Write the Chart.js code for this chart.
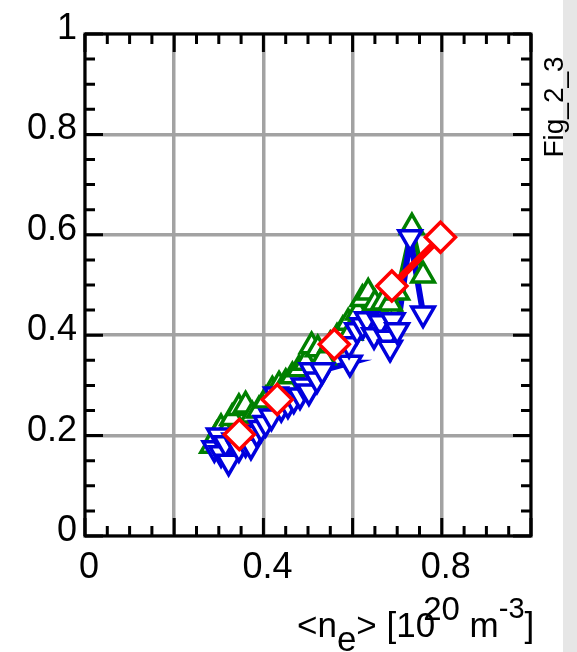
<!DOCTYPE html>
<html><head><meta charset="utf-8">
<script src="https://cdn.jsdelivr.net/npm/chart.js@4"></script>
<style>
html,body{margin:0;padding:0;background:#fff;overflow:hidden;}
canvas{display:block;}
</style></head><body>
<canvas id="c" width="577" height="652"></canvas>
<script>
// ---- data ----
const greenX=[0.285,0.295,0.305,0.315,0.330,0.345,0.360,0.375,0.390,0.405,0.420,0.435,0.450,0.465,0.480,0.495,0.508,0.522,0.535,0.550,0.565,0.578,0.590,0.595,0.612,0.622,0.635,0.650,0.668,0.684,0.700,0.733,0.758];
const greenY=[0.180,0.200,0.215,0.205,0.235,0.255,0.260,0.240,0.250,0.270,0.290,0.300,0.305,0.318,0.332,0.345,0.378,0.372,0.356,0.380,0.395,0.410,0.425,0.405,0.445,0.472,0.485,0.463,0.465,0.463,0.485,0.615,0.519];
const blueX=[0.290,0.300,0.305,0.315,0.322,0.335,0.345,0.360,0.372,0.385,0.395,0.405,0.418,0.428,0.440,0.455,0.468,0.482,0.490,0.502,0.508,0.520,0.532,0.594,0.592,0.610,0.623,0.632,0.648,0.662,0.677,0.684,0.690,0.700,0.729,0.758];
const blueY=[0.175,0.200,0.165,0.185,0.148,0.190,0.175,0.185,0.180,0.205,0.215,0.225,0.238,0.282,0.255,0.262,0.272,0.280,0.300,0.288,0.330,0.312,0.330,0.345,0.382,0.410,0.420,0.432,0.400,0.426,0.395,0.375,0.430,0.410,0.595,0.443];
const redX=[0.346,0.431,0.559,0.688,0.797];
const redY=[0.202,0.272,0.382,0.498,0.595];
const xTickLabels=['0','0.4','0.8'];
const yTickLabels=['0','0.2','0.4','0.6','0.8','1'];
const figLabel='Fig_2_3';

const pts=(xs,ys)=>xs.map((x,i)=>({x:x,y:ys[i]}));
const key=v=>Math.round(v*100);
const isMajor=v=>key(v)%20===0;
const fmt=v=>{const k=key(v);return k===0?'0':(k===100?'1':(k/100).toString());};
const FONT='"Liberation Sans", Arial, sans-serif';
const GREEN='#008000',BLUE='#0000dd',RED='#ff0000';

const framePlugin={
  id:'frame',
  beforeDraw(chart){
    const ctx=chart.ctx;
    ctx.save();ctx.fillStyle='#fff';ctx.fillRect(0,0,chart.width,chart.height);
    ctx.fillStyle='#e6e6e6';ctx.fillRect(chart.width-14,0,14,chart.height);ctx.restore();
  },
  afterDatasetsDraw(chart){
    const ctx=chart.ctx,a=chart.chartArea,xs=chart.scales.x,ys=chart.scales.y;
    ctx.save();
    ctx.strokeStyle='#000';ctx.lineWidth=3;ctx.lineCap='butt';
    ctx.beginPath();
    xs.ticks.forEach(t=>{const p=xs.getPixelForValue(t.value);const L=isMajor(t.value)?18:10;
      ctx.moveTo(p,a.bottom);ctx.lineTo(p,a.bottom-L);ctx.moveTo(p,a.top);ctx.lineTo(p,a.top+L);});
    ys.ticks.forEach(t=>{const p=ys.getPixelForValue(t.value);const L=isMajor(t.value)?18:10;
      ctx.moveTo(a.left,p);ctx.lineTo(a.left+L,p);ctx.moveTo(a.right,p);ctx.lineTo(a.right-L,p);});
    ctx.stroke();
    ctx.strokeRect(a.left,a.top,a.right-a.left,a.bottom-a.top);
    ctx.restore();
  },
  afterDraw(chart){
    const ctx=chart.ctx,a=chart.chartArea;
    ctx.save();
    ctx.fillStyle='#000';ctx.textBaseline='alphabetic';ctx.textAlign='left';
    const segs=[
      {t:'<n',s:35,dy:0,dx:0},
      {t:'e',s:35,dy:14,dx:0},
      {t:'> [10',s:35,dy:0,dx:0},
      {t:'20',s:33,dy:-17,dx:-12},
      {t:' m',s:35,dy:0,dx:0},
      {t:'-3',s:29,dy:-19,dx:0},
      {t:']',s:35,dy:0,dx:0}
    ];
    let x=a.left+212;const base=a.bottom+101;
    segs.forEach(sg=>{ctx.font=sg.s+'px '+FONT;x+=sg.dx;ctx.fillText(sg.t,x,base+sg.dy);x+=ctx.measureText(sg.t).width;});
    ctx.translate(a.right+24,a.top+73);ctx.rotate(-Math.PI/2);
    ctx.font='28px '+FONT;ctx.textAlign='center';ctx.textBaseline='middle';
    ctx.fillText(figLabel,0,0);
    ctx.restore();
  }
};

const gridCfg={
  color:c=>isMajor(c.tick.value)?'#a2a2a2':'rgba(0,0,0,0)',
  lineWidth:3.5,drawTicks:false
};
const lineOnly=(lbl,xs,ys,col,w,ord)=>({label:lbl,data:pts(xs,ys),showLine:true,borderColor:col,borderWidth:w,pointRadius:0,order:ord});
const ptsOnly=(lbl,xs,ys,col,style,rot,r,ord)=>({label:lbl,data:pts(xs,ys),showLine:false,pointStyle:style,rotation:rot,
  pointRadius:r,pointBorderWidth:3.5,pointBackgroundColor:'#fff',pointBorderColor:col,order:ord});

new Chart(document.getElementById('c'),{
  type:'scatter',
  data:{datasets:[
    lineOnly('green line',greenX,greenY,GREEN,5,6),
    lineOnly('blue line',blueX,blueY,BLUE,6,5),
    lineOnly('red line',redX,redY,RED,7,4),
    ptsOnly('green',greenX,greenY,GREEN,'triangle',0,13,3),
    ptsOnly('blue',blueX,blueY,BLUE,'triangle',180,13,2),
    ptsOnly('red',redX,redY,RED,'rectRot',0,15,1)
  ]},
  options:{
    responsive:false,animation:false,devicePixelRatio:1,
    layout:{padding:{top:34,right:46,left:0,bottom:0}},
    plugins:{legend:{display:false},tooltip:{enabled:false}},
    scales:{
      x:{type:'linear',min:0,max:1,
        afterFit:s=>{s.height=116;},
        grid:gridCfg,border:{display:false},
        ticks:{stepSize:0.05,autoSkip:false,maxRotation:0,padding:10,labelOffset:4,color:'#000',
          font:{family:FONT,size:36},
          callback:v=>{const f=fmt(v);return xTickLabels.includes(f)?f:'';}}},
      y:{type:'linear',min:0,max:1,
        afterFit:s=>{s.width=85;},
        grid:gridCfg,border:{display:false},
        ticks:{stepSize:0.05,autoSkip:false,padding:8,labelOffset:-5,color:'#000',
          font:{family:FONT,size:36},
          callback:v=>{const f=fmt(v);return (isMajor(v)&&yTickLabels.includes(f))?f:'';}}}
    }
  },
  plugins:[framePlugin]
});
</script>
</body></html>
